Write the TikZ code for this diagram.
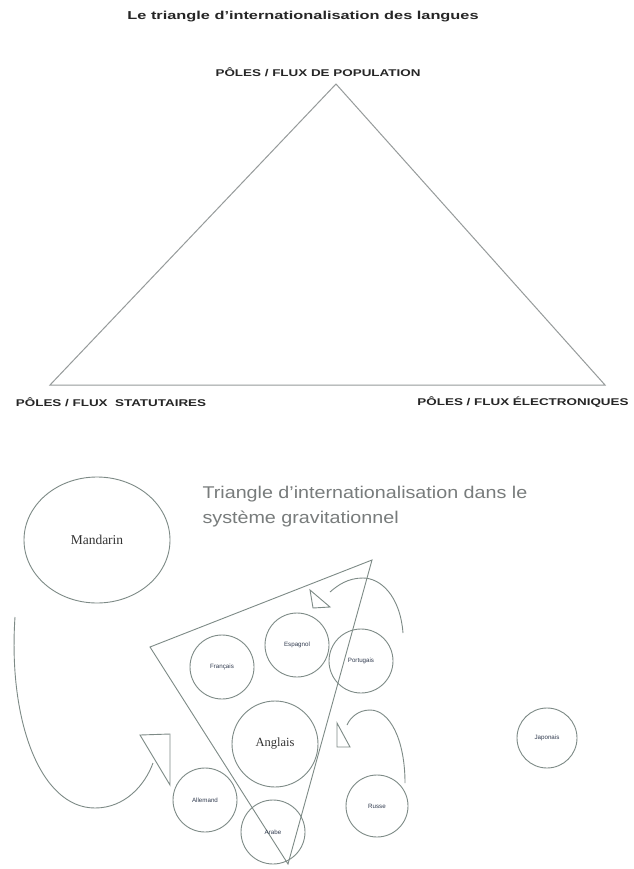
\documentclass[tikz,border=0pt]{standalone}
\usepackage{fontspec}
\setmainfont{Liberation Serif}
\setsansfont{Liberation Sans}
\usepackage{graphicx}
\usetikzlibrary{shapes.geometric}
\definecolor{linec}{RGB}{125,138,134}
\definecolor{trilc}{RGB}{150,155,155}
\definecolor{greytext}{RGB}{120,124,124}
\definecolor{labc}{RGB}{50,60,80}
\begin{document}
\begin{tikzpicture}[x=1pt,y=-1pt,
  ln/.style={draw=linec, line width=0.9pt},
  topl/.style={font=\sffamily\bfseries\fontsize{9.8}{11}\selectfont, text=black!85},
  lang/.style={circle, draw=linec, line width=0.9pt, minimum size=#1, inner sep=0pt},
  smalllab/.style={font=\sffamily\fontsize{6.2}{7}\selectfont, text=labc},
  serlab/.style={font=\rmfamily\fontsize{13.5}{15}\selectfont, text=black!80}]
\useasboundingbox (0,0) rectangle (633,869);
\fill[white] (0,0) rectangle (633,869);
% upper part
\node[font=\sffamily\bfseries\fontsize{11.5}{14}\selectfont, text=black!85] (title) at (303,17)
  {\scalebox{1.42}[1]{Le triangle d'internationalisation des langues}};
\coordinate (T) at (336,84);
\coordinate (L) at (50,385);
\coordinate (R) at (605,385);
\draw[draw=trilc, line width=1pt] (T) -- (L) -- (R) -- cycle;
\node[topl] (pop) at (318,72) {\scalebox{1.37}[1]{PÔLES / FLUX DE POPULATION}};
\node[topl] (stat) at (111,402) {\scalebox{1.37}[1]{PÔLES / FLUX \ STATUTAIRES}};
\node[topl] (elec) at (523,402) {\scalebox{1.37}[1]{PÔLES / FLUX ÉLECTRONIQUES}};
% lower part
\node[ellipse, draw=linec, line width=0.9pt, minimum width=146pt, minimum height=126pt, inner sep=0pt, serlab] (mand) at (97,540) {Mandarin};
\node[anchor=west, font=\sffamily\fontsize{17}{20}\selectfont, text=greytext] (st1) at (199,494) {\scalebox{1.16}[1]{Triangle d’internationalisation dans le}};
\node[anchor=west, font=\sffamily\fontsize{17}{20}\selectfont, text=greytext] (st2) at (199,519) {\scalebox{1.16}[1]{système gravitationnel}};
\coordinate (A) at (372,560);
\coordinate (B) at (150,647);
\coordinate (C) at (288,864);
\draw[ln] (A) -- (B) -- (C) -- cycle;
\node[lang=64pt, smalllab] (fr) at (222,667) {Français};
\node[lang=64pt, smalllab] (es) at (297,645) {Espagnol};
\node[lang=64pt, smalllab] (pt) at (361,661) {Portugais};
\node[lang=86pt, serlab, font=\rmfamily\fontsize{12.5}{14}\selectfont] (en) at (275,744) {Anglais};
\node[lang=64pt, smalllab] (de) at (205,800) {Allemand};
\node[lang=64pt, smalllab] (ar) at (273,832) {Arabe};
\node[lang=62pt, smalllab] (ru) at (377,806) {Russe};
\node[lang=60pt, smalllab] (jp) at (547,738) {Japonais};
% arrows
\coordinate (a1s) at (15,617);
\coordinate (a1e) at (153,763);
\draw[ln] (a1s) .. controls (8,720) and (40,808) .. (95,808) .. controls (125,808) and (145,785) .. (a1e);
\draw[ln] (140,735) -- (170,734) -- (170,785) -- cycle;
\coordinate (a2s) at (403,633);
\coordinate (a2e) at (330,592);
\draw[ln] (a2s) .. controls (400,595) and (380,578) .. (363,578) .. controls (348,578) and (338,585) .. (a2e);
\draw[ln] (310,590) -- (313,608) -- (330,607) -- cycle;
\coordinate (a3s) at (405,783);
\coordinate (a3e) at (347,725);
\draw[ln] (a3s) .. controls (405,740) and (390,710) .. (370,710) .. controls (358,710) and (350,718) .. (a3e);
\draw[ln] (337,723) -- (337,747) -- (350,747) -- cycle;
\end{tikzpicture}
\end{document}
